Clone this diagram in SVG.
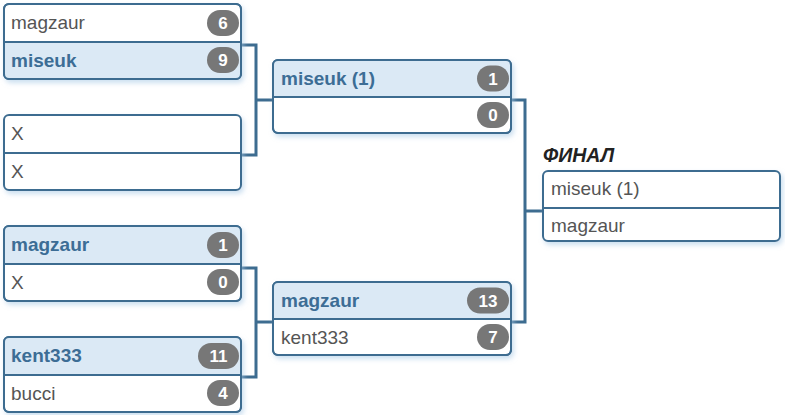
<svg xmlns="http://www.w3.org/2000/svg" width="785" height="415" viewBox="0 0 785 415">
<style>
.box{fill:#fff;stroke:#3d6c90;stroke-width:2}
.div{stroke:#3d6c90;stroke-width:2}
.hl{fill:#dbe9f5}
.t{font-family:"Liberation Sans",Arial,sans-serif;font-size:19px;fill:#555}
.w{font-weight:bold;fill:#3c6d95}
.b{fill:#777}
.bt{font-family:"Liberation Sans",Arial,sans-serif;font-size:17px;font-weight:bold;fill:#fff;text-anchor:middle}
.con{fill:none;stroke:#3d6c90;stroke-width:3}
.title{font-family:"Liberation Sans",Arial,sans-serif;font-size:19.5px;font-weight:bold;font-style:italic;fill:#222}
</style>
<defs>
<filter id="sh" x="-10%" y="-20%" width="125%" height="150%">
<feDropShadow dx="2" dy="3" stdDeviation="2.5" flood-color="#a9cbe6" flood-opacity="0.6"/>
</filter>
<clipPath id="c1"><rect x="0" y="0" width="237" height="75" rx="5"/></clipPath>
<clipPath id="c2"><rect x="0" y="0" width="238" height="73" rx="5"/></clipPath>
</defs>
<g id="connectors">
<path class="con" d="M241 45 H256 V155 H241 M256 100 H273"/>
<path class="con" d="M241 268 H256 V377 H241 M256 322 H273"/>
<path class="con" d="M511 100 H525 V322 H511 M525 211 H543"/>
</g>
<g id="m1" transform="translate(4,4)">
<rect class="box" width="237" height="75" rx="5" filter="url(#sh)"/>
<rect class="hl" y="38" width="237" height="37" clip-path="url(#c1)"/>
<rect width="237" height="75" rx="5" fill="none" stroke="#3d6c90" stroke-width="2"/>
<line class="div" x1="0" y1="38" x2="237" y2="38"/>
<text class="t" x="7" y="25">magzaur</text>
<rect class="b" x="203" y="6" width="32" height="26" rx="13"/><text class="bt" x="219" y="25">6</text>
<text class="t w" x="7" y="63">miseuk</text>
<rect class="b" x="203" y="43" width="32" height="26" rx="13"/><text class="bt" x="219" y="62">9</text>
</g>
<g id="m2" transform="translate(4,115)">
<rect class="box" width="237" height="75" rx="5" filter="url(#sh)"/>
<line class="div" x1="0" y1="38" x2="237" y2="38"/>
<text class="t" x="7" y="25">X</text>
<text class="t" x="7" y="63">X</text>
</g>
<g id="m3" transform="translate(4,226)">
<rect class="box" width="237" height="75" rx="5" filter="url(#sh)"/>
<rect class="hl" y="0" width="237" height="38" clip-path="url(#c1)"/>
<rect width="237" height="75" rx="5" fill="none" stroke="#3d6c90" stroke-width="2"/>
<line class="div" x1="0" y1="38" x2="237" y2="38"/>
<text class="t w" x="7" y="25">magzaur</text>
<rect class="b" x="203" y="6" width="32" height="26" rx="13"/><text class="bt" x="219" y="25">1</text>
<text class="t" x="7" y="63">X</text>
<rect class="b" x="203" y="43" width="32" height="26" rx="13"/><text class="bt" x="219" y="62">0</text>
</g>
<g id="m4" transform="translate(4,337)">
<rect class="box" width="237" height="75" rx="5" filter="url(#sh)"/>
<rect class="hl" y="0" width="237" height="38" clip-path="url(#c1)"/>
<rect width="237" height="75" rx="5" fill="none" stroke="#3d6c90" stroke-width="2"/>
<line class="div" x1="0" y1="38" x2="237" y2="38"/>
<text class="t w" x="7" y="25">kent333</text>
<rect class="b" x="194" y="6" width="41" height="26" rx="13"/><text class="bt" x="214.5" y="25">11</text>
<text class="t" x="7" y="63">bucci</text>
<rect class="b" x="203" y="43" width="32" height="26" rx="13"/><text class="bt" x="219" y="62">4</text>
</g>
<g id="m5" transform="translate(273,60)">
<rect class="box" width="238" height="73" rx="5" filter="url(#sh)"/>
<rect class="hl" y="0" width="238" height="37" clip-path="url(#c2)"/>
<rect width="238" height="73" rx="5" fill="none" stroke="#3d6c90" stroke-width="2"/>
<line class="div" x1="0" y1="37" x2="238" y2="37"/>
<text class="t w" x="8" y="25">miseuk (1)</text>
<rect class="b" x="204" y="5.5" width="32" height="26" rx="13"/><text class="bt" x="220" y="24.5">1</text>
<rect class="b" x="204" y="42" width="32" height="26" rx="13"/><text class="bt" x="220" y="61">0</text>
</g>
<g id="m6" transform="translate(273,282)">
<rect class="box" width="238" height="73" rx="5" filter="url(#sh)"/>
<rect class="hl" y="0" width="238" height="37" clip-path="url(#c2)"/>
<rect width="238" height="73" rx="5" fill="none" stroke="#3d6c90" stroke-width="2"/>
<line class="div" x1="0" y1="37" x2="238" y2="37"/>
<text class="t w" x="8" y="25">magzaur</text>
<rect class="b" x="194" y="5.5" width="42" height="26" rx="13"/><text class="bt" x="215" y="24.5">13</text>
<text class="t" x="8" y="62">kent333</text>
<rect class="b" x="204" y="42" width="32" height="26" rx="13"/><text class="bt" x="220" y="61">7</text>
</g>
<g id="final" transform="translate(543,171)">
<text class="title" x="0" y="-9">ФИНАЛ</text>
<rect class="box" width="237" height="70" rx="5" filter="url(#sh)"/>
<line class="div" x1="0" y1="37" x2="237" y2="37"/>
<text class="t" x="8" y="24">miseuk (1)</text>
<text class="t" x="8" y="61">magzaur</text>
</g>
</svg>
